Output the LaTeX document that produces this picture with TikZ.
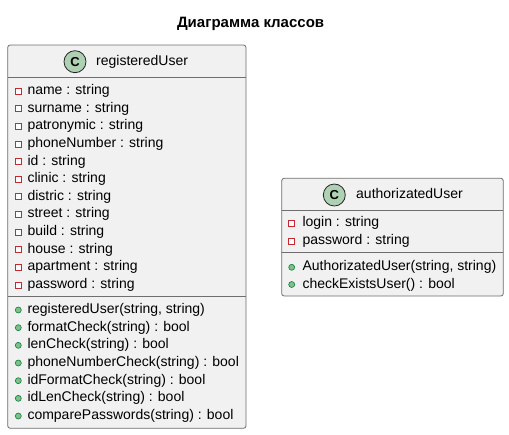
\documentclass[tikz,border=0pt]{standalone}
\usepackage{fontspec}
\setmainfont{Liberation Sans}
\definecolor{boxfill}{HTML}{F1F1F1}
\definecolor{boxline}{HTML}{6E6E6E}
\definecolor{spotfill}{HTML}{ADD1B2}
\definecolor{privred}{HTML}{C82930}
\definecolor{pubfill}{HTML}{84BE84}
\definecolor{publine}{HTML}{038048}
\tikzset{
  classbox/.style={draw=boxline, fill=boxfill, line width=0.8pt, rounded corners=2.5pt},
  divline/.style={draw=boxline, line width=0.8pt},
  member/.style={anchor=west, inner sep=0pt, text height=10pt, text depth=3pt, font=\fontsize{14pt}{16pt}\selectfont},
  classname/.style={member},
  spot/.style={circle, draw=black!85, fill=spotfill, line width=0.8pt, minimum size=22pt, inner sep=0pt, font=\fontsize{13pt}{14pt}\selectfont\bfseries},
  privicon/.style={draw=privred, fill=white, line width=0.8pt, minimum size=6pt, inner sep=0pt, rectangle},
  pubicon/.style={circle, draw=publine, fill=pubfill, line width=0.6pt, minimum size=6pt, inner sep=0pt},
  titlestyle/.style={anchor=base, inner sep=0pt, font=\fontsize{15pt}{17pt}\selectfont\bfseries}
}
\begin{document}
\begin{tikzpicture}[x=1pt, y=-1pt]
\useasboundingbox (0,0) rectangle (509,434);
\node[titlestyle] (title) at (250.6,27.4) {Диаграмма классов};

% registeredUser
\path[classbox] (7.7,45) rectangle (246,428.3);
\draw[divline] (7.7,77.3) -- (246,77.3);
\draw[divline] (7.7,296.7) -- (246,296.7);
\node[spot] (regspot) at (75,61.7) {C};
\node[classname] (regname) at (96,61.7) {registeredUser};
\foreach \t [count=\i from 0] in {name : string, surname : string, patronymic : string, phoneNumber : string, id : string, clinic : string, distric : string, street : string, build : string, house : string, apartment : string, password : string}{
  \node[privicon] (regai\i) at (18.3,91+17.64*\i) {};
  \node[member] (rega\i) at (27.3,91+17.64*\i) {\t};
}
\foreach \t [count=\i from 0] in {{registeredUser(string, string)}, formatCheck(string) : bool, lenCheck(string) : bool, phoneNumberCheck(string) : bool, idFormatCheck(string) : bool, idLenCheck(string) : bool, comparePasswords(string) : bool}{
  \node[pubicon] (regmi\i) at (18.3,310+17.67*\i) {};
  \node[member] (regm\i) at (27.3,310+17.67*\i) {\t};
}

% authorizatedUser
\path[classbox] (281.7,178.3) rectangle (503.3,296);
\draw[divline] (281.7,210.7) -- (503.3,210.7);
\draw[divline] (281.7,252.7) -- (503.3,252.7);
\node[spot] (authspot) at (334.3,195) {C};
\node[classname] (authname) at (356,195) {authorizatedUser};
\node[privicon] (authai0) at (291.7,223.3) {};
\node[member] (autha0) at (302.3,223.3) {login : string};
\node[privicon] (authai1) at (291.7,241) {};
\node[member] (autha1) at (302.3,241) {password : string};
\node[pubicon] (authmi0) at (291.7,267.3) {};
\node[member] (authm0) at (302.3,267.3) {AuthorizatedUser(string, string)};
\node[pubicon] (authmi1) at (291.7,284.5) {};
\node[member] (authm1) at (302.3,284.5) {checkExistsUser() : bool};
\end{tikzpicture}
\end{document}
